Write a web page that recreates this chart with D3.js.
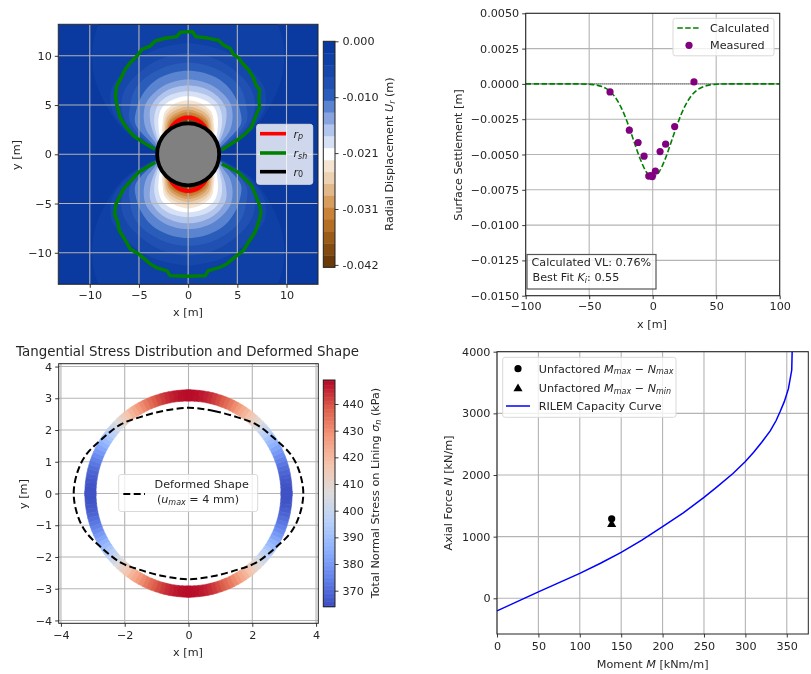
<!DOCTYPE html>
<html>
<head>
<meta charset="utf-8">
<script src="https://cdn.jsdelivr.net/npm/d3@7"></script>
<style>
    html, body { margin: 0; padding: 0; background: #fff; }
    svg { display: block; filter: blur(0.35px); }
    text { font-family: "DejaVu Sans", sans-serif; fill: #262626; }
    .tick text { font-size: 11.2px; }
    .tick line { stroke: #222; stroke-width: 0.9; }
    .grid line { stroke: #b4b4b4; stroke-width: 1.1; }
    .frame { fill: none; stroke: #222; stroke-width: 1; }
    .label { font-size: 11.2px; }
</style>
</head>
<body>
<svg id="chart" width="811" height="674"></svg>
<script>
// ---- displacement panel ----
const dispLevels = [0, -0.00223, -0.00447, -0.0067, -0.00894, -0.01117, -0.0134, -0.01564, -0.01787, -0.0201,
    -0.02234, -0.02457, -0.02681, -0.02904, -0.03127, -0.03351, -0.03574, -0.03797, -0.04021, -0.04245]
const dispColors = ["#0a399f", "#0f40a6", "#1648ab", "#2050b2", "#2a5cba", "#5a84d0", "#88a4de", "#b2c5ec", "#d7e1f5", "#ffffff",
    "#f5e4d2", "#ecd2b2", "#e2b78a", "#d69d5e", "#c98238", "#b56f24", "#9b5c1a", "#824b12", "#6b3a0b"]
const dispTicks = [0, -0.0105, -0.021, -0.0315, -0.042]
const dispTickLabels = ["0.000", "-0.010", "-0.021", "-0.031", "-0.042"]
const xyTicks = [-10, -5, 0, 5, 10]

// radius of each band's outer edge, read at these angles off the vertical
const lobeAngles = [0, 10, 20, 30, 40, 50, 60, 70, 80]
const lobeRadii = [
    null,
    [20, 20, 20, 17, 15, 12.5, 9.5, 6.8, 3.6],
    [11.3, 11.2, 11.1, 10.9, 10.6, 10.2, 8.9, 6.3, 3.4],
    [10.3, 10.2, 10, 9.7, 9.4, 8.8, 7.6, 5.6, 3.3],
    [9.3, 9.25, 9.1, 8.9, 8.5, 7.7, 6.9, 5, 3.2],
    [8.5, 8.45, 8.3, 8, 7.5, 6.9, 6.2, 4.3, 3.1],
    [7.6, 7.55, 7.4, 7.1, 6.7, 5.9, 4.9, 3.6, 3],
    [7, 6.95, 6.8, 6.5, 6, 5, 4, 3.3, 3],
    [6.4, 6.35, 6.25, 5.95, 5.3, 4.45, 3.65, 3.2, 3],
    [5.9, 5.85, 5.7, 5.4, 4.7, 3.9, 3.3, 3.05, 3],
    [5.5, 5.4, 5.2, 4.85, 4.05, 3.5, 3.1, 3, 3],
    [5.15, 5.05, 4.9, 4.55, 3.85, 3.3, 3, 3, 3],
    [4.85, 4.75, 4.6, 4.3, 3.65, 3.15, 3, 3, 3],
    [4.55, 4.45, 4.3, 4, 3.45, 3.05, 3, 3, 3],
    [4.3, 4.2, 4.05, 3.8, 3.3, 3, 3, 3, 3],
    [4.05, 3.95, 3.85, 3.55, 3.15, 3, 3, 3, 3],
    [3.85, 3.75, 3.6, 3.35, 3.05, 3, 3, 3, 3],
    [3.65, 3.58, 3.45, 3.25, 3, 3, 3, 3, 3],
    [3.45, 3.4, 3.3, 3.15, 3, 3, 3, 3, 3],
]
const rpRadii = [3.74, 3.68, 3.52, 3.3, 3.05, 3, 3, 3, 3]
const r0 = 3.15
const shTopX = [-3.37, -4.55, -5.55, -6.4, -6.9, -7.26, -7.4, -7.26, -6.9, -6.4, -5.89, -5.2, -4.7, -3.86, -3.35, -2.34, -1.15, -0.81,
    0, 0.44, 0.78, 1.73, 3.08, 3.59, 4.26, 4.6, 5.1, 5.6, 6.1, 6.6, 6.93, 7.26, 7.19, 7.26, 6.93, 6.43, 5.75, 5.08, 4.06, 3.4]
const shTopY = [0.51, 1.18, 1.86, 2.88, 3.72, 5.08, 5.93, 6.94, 7.61, 8.63, 9.3, 9.98, 10.66, 11, 11.51, 11.78, 11.95, 12.38,
    12.45, 12.45, 11.95, 11.84, 11.57, 11.1, 10.77, 10.15, 9.81, 9.14, 8.63, 7.85, 6.94, 6.6, 5.58, 4.74, 4.06, 2.71, 2.03, 1.52, 0.85, 0.44]
const shBotX = [-3.35, -5.04, -6.57, -7.34, -7.48, -7.14, -7, -6.33, -5.89, -5.04, -3.86, -3.18, -2.17, -1.83,
    0, 1.73, 2.06, 3.25, 3.93, 4.94, 5.62, 6.13, 6.8, 7.21, 7.41, 7.21, 6.46, 5.11, 3.42]
const shBotY = [-0.81, -1.83, -3.52, -5.04, -6.06, -6.9, -7.75, -8.83, -9.61, -10.12, -11.13, -11.54, -11.81, -12.32,
    -12.39, -12.32, -11.81, -11.47, -11.13, -10.29, -9.78, -8.93, -7.92, -6.73, -5.89, -5.04, -3.18, -1.83, -0.98]

// ---- settlement panel ----
const calcX = [-100, -60, -50, -45, -40, -35, -30, -25, -20, -15, -10, -5, 0, 5, 10, 15, 20, 25, 30, 35, 40, 45, 50, 60, 100]
const calcY = [0, 0, -0.00003, -0.00007, -0.00019, -0.00043, -0.00089, -0.00164, -0.00271, -0.004, -0.00528, -0.00624, -0.0066,
    -0.00624, -0.00528, -0.004, -0.00271, -0.00164, -0.00089, -0.00043, -0.00019, -0.00007, -0.00003, 0, 0]
const measX = [-33.6, -18.4, -11.5, -6.8, -3.1, -1.5, -0.3, 2.1, 5.8, 10.2, 17.3, 32.5]
const measY = [-0.00057, -0.00328, -0.00415, -0.00512, -0.00653, -0.0065, -0.00656, -0.00618, -0.00479, -0.00427, -0.00302, 0.00014]

// ---- lining stress panel ----
const stressAngles = d3.range(0, 90.1, 2.5)
const stressValues = [365, 365.2, 365.6, 366.4, 367.5, 368.9, 370.6, 372.5, 374.7, 377.2, 379.8, 382.7, 385.8, 389, 392.3, 395.8, 399.3, 402.9,
    406.5, 410.1, 413.7, 417.2, 420.7, 424, 427.3, 430.3, 433.2, 435.8, 438.3, 440.5, 442.4, 444.1, 445.5, 446.6, 447.4, 447.8, 448]
const ringInner = 2.9
const ringOuter = 3.25
const stressTicks = [370, 380, 390, 400, 410, 420, 430, 440]
const coolwarm = ["#3b4cc0", "#6282ea", "#8db0fe", "#b8d0f9", "#dddcdc", "#f5c4ac", "#f4987a", "#dc5d4a", "#b40426"]
const defX = [0, 0.8, 1.54, 2.12, 2.69, 3.22, 3.48, 3.6]
const defY = [2.7, 2.6, 2.4, 2.18, 1.74, 1.21, 0.68, 0]

// ---- capacity panel ----
const capM = [0, 25, 50, 75, 100, 125, 150, 175, 200, 225, 250, 265, 285, 300, 310, 320, 330, 337, 342, 347, 352, 356, 356.5]
const capN = [-205, -50, 105, 255, 405, 568, 746, 945, 1162, 1385, 1638, 1800, 2025, 2220, 2370, 2535, 2715, 2880, 3030, 3190, 3400, 3703, 4000]
const unfactoredM = [138.5, 138.5]
const unfactoredN = [1290, 1200]

const svg = d3.select("#chart")

// math labels: parts are [text, "i" | "s" | "is" | ""]
function addText(g, x, y, parts, opts = {}) {
    const t = g.append("text")
        .attr("class", "label")
        .attr("x", x)
        .attr("y", y)
        .attr("text-anchor", opts.anchor || "start")
        .attr("dominant-baseline", "central")
    if (opts.rotate) t.attr("transform", `rotate(-90 ${x} ${y})`)
    let shifted = false
    parts.forEach(([s, kind]) => {
        const span = t.append("tspan").text(s)
        const sub = kind && kind.includes("s")
        if (kind && kind.includes("i")) span.style("font-style", "italic")
        if (sub) span.style("font-size", "8px")
        if (sub && !shifted) span.attr("dy", 2.5)
        if (!sub && shifted) span.attr("dy", -2.5)
        shifted = sub
    })
    return t
}

function drawAxes(g, xScale, yScale, xTicks, yTicks, yFormat, xPad) {
    const height = yScale.range()[0]
    const top = yScale.range()[1]
    const left = xScale.range()[0]
    const right = xScale.range()[1]

    const xAxis = g.append("g")
        .attr("transform", `translate(0,${height})`)
        .call(d3.axisBottom(xScale).tickValues(xTicks).tickSize(3.5).tickPadding(xPad || 3))
    const yAxis = g.append("g")
        .attr("transform", `translate(${left},0)`)
        .call(d3.axisLeft(yScale).tickValues(yTicks).tickSize(3.5).tickPadding(3).tickFormat(yFormat || (d => d3.format("d")(d))))
    xAxis.select(".domain").remove()
    yAxis.select(".domain").remove()

    g.append("rect")
        .attr("class", "frame")
        .attr("x", left)
        .attr("y", top)
        .attr("width", right - left)
        .attr("height", height - top)
}

function drawGrid(g, xScale, yScale, xTicks, yTicks) {
    const grid = g.append("g").attr("class", "grid")
    grid.selectAll(".gx").data(xTicks).enter().append("line")
        .attr("x1", d => xScale(d)).attr("x2", d => xScale(d))
        .attr("y1", yScale.range()[0]).attr("y2", yScale.range()[1])
    grid.selectAll(".gy").data(yTicks).enter().append("line")
        .attr("x1", xScale.range()[0]).attr("x2", xScale.range()[1])
        .attr("y1", d => yScale(d)).attr("y2", d => yScale(d))
}

function legendBox(g, x, y, w, h, fill) {
    g.append("rect")
        .attr("x", x).attr("y", y)
        .attr("width", w).attr("height", h)
        .attr("rx", 2.5)
        .attr("fill", fill || "#fff")
        .attr("fill-opacity", 0.8)
        .attr("stroke", "#d9d9d9")
        .attr("stroke-width", 1)
}

// 1. Radial displacement
function drawDisplacement() {
    const g = svg.append("g")
    const x = d3.scaleLinear().domain([-13.2, 13.2]).range([58.3, 318])
    const y = d3.scaleLinear().domain([-13.2, 13.2]).range([284.3, 24.3])
    const unit = x(1) - x(0)

    g.append("defs").append("clipPath").attr("id", "clip-disp")
        .append("rect")
        .attr("x", 58.3).attr("y", 24.3)
        .attr("width", 259.7).attr("height", 260)

    const clip = g.append("g").attr("clip-path", "url(#clip-disp)")
    clip.append("rect")
        .attr("x", 58.3).attr("y", 24.3)
        .attr("width", 259.7).attr("height", 260)
        .attr("fill", dispColors[0])

    const angles = lobeAngles.map(a => -a).reverse().slice(0, -1).concat(lobeAngles)
    const lobePath = radii => {
        const full = radii.slice().reverse().slice(0, -1).concat(radii)
        return d3.lineRadial()
            .angle((d, i) => angles[i] * Math.PI / 180)
            .radius(d => d * unit)
            .curve(d3.curveCatmullRom)(full) + "Z"
    }

    // both lobes, outermost band first
    const lobes = clip.append("g").attr("transform", `translate(${x(0)},${y(0)})`)
    lobeRadii.forEach((radii, i) => {
        if (!radii) return
        lobes.append("path").attr("d", lobePath(radii)).attr("fill", dispColors[i])
        lobes.append("path").attr("d", lobePath(radii)).attr("fill", dispColors[i])
            .attr("transform", "rotate(180)")
    })

    drawGrid(clip, x, y, xyTicks, xyTicks)

    const rp = clip.append("g").attr("transform", `translate(${x(0)},${y(0)})`)
    ;["rotate(0)", "rotate(180)"].forEach(t => {
        rp.append("path").attr("d", lobePath(rpRadii))
            .attr("fill", "none").attr("stroke", "#ff0000").attr("stroke-width", 4)
            .attr("transform", t)
    })

    const shLine = d3.line().x(d => x(d[0])).y(d => y(d[1]))
    clip.append("path")
        .attr("d", shLine(d3.zip(shTopX, shTopY)))
        .attr("fill", "none").attr("stroke", "#008000").attr("stroke-width", 3.4)
    clip.append("path")
        .attr("d", shLine(d3.zip(shBotX, shBotY)))
        .attr("fill", "none").attr("stroke", "#008000").attr("stroke-width", 3.4)

    clip.append("circle")
        .attr("cx", x(0)).attr("cy", y(0))
        .attr("r", r0 * unit)
        .attr("fill", "#808080")
        .attr("stroke", "#000")
        .attr("stroke-width", 3.8)

    drawAxes(g, x, y, xyTicks, xyTicks)
    addText(g, 188, 312, [["x [m]"]], { anchor: "middle" })
    addText(g, 15.5, 155, [["y [m]"]], { anchor: "middle", rotate: true })

    // legend
    legendBox(g, 256.7, 124.3, 56, 60)
    const legendRows = [["#ff0000", 133.7, "p"], ["#008000", 153, "sh"], ["#000", 171.7, "0"]]
    legendRows.forEach(([color, ly, sub]) => {
        g.append("line")
            .attr("x1", 260).attr("x2", 286).attr("y1", ly).attr("y2", ly)
            .attr("stroke", color).attr("stroke-width", 3.6)
        addText(g, 293.5, ly, [["r", "i"], [sub, sub === "0" ? "s" : "is"]])
    })

    // colorbar
    const cy = d3.scaleLinear().domain([0, -0.0105]).range([41.3, 97.2])
    g.selectAll(".band").data(dispColors).enter().append("rect")
        .attr("x", 323.3)
        .attr("width", 11.7)
        .attr("y", (d, i) => cy(dispLevels[i]))
        .attr("height", (d, i) => cy(dispLevels[i + 1]) - cy(dispLevels[i]) + 0.3)
        .attr("fill", d => d)
    const cAxis = g.append("g")
        .attr("transform", "translate(335,0)")
        .call(d3.axisRight(cy).tickValues(dispTicks).tickSize(3.5).tickPadding(4)
            .tickFormat((d, i) => dispTickLabels[i]))
    cAxis.select(".domain").remove()
    g.append("rect").attr("class", "frame")
        .attr("x", 323.3).attr("y", 41.3).attr("width", 11.7).attr("height", 226)
    addText(g, 389, 154, [["Radial Displacement "], ["U", "i"], ["r", "is"], [" (m)"]], { anchor: "middle", rotate: true })
}

// 2. Surface settlement
function drawSettlement() {
    const g = svg.append("g")
    const x = d3.scaleLinear().domain([-100, 100]).range([525.7, 779.7])
    const y = d3.scaleLinear().domain([-0.015, 0.005]).range([295.7, 13.3])
    const xTicks = [-100, -50, 0, 50, 100]
    const yTicks = d3.range(-0.015, 0.0051, 0.0025)

    drawGrid(g, x, y, xTicks, yTicks)

    g.append("line")
        .attr("x1", x(-100)).attr("x2", x(100)).attr("y1", y(0)).attr("y2", y(0))
        .attr("stroke", "#222").attr("stroke-width", 0.8).attr("stroke-dasharray", "1,1")

    const line = d3.line().x(d => x(d[0])).y(d => y(d[1])).curve(d3.curveMonotoneX)
    g.append("path")
        .attr("d", line(d3.zip(calcX, calcY)))
        .attr("fill", "none")
        .attr("stroke", "#008000")
        .attr("stroke-width", 1.6)
        .attr("stroke-dasharray", "5.5,2.4")

    g.selectAll(".meas").data(d3.zip(measX, measY)).enter().append("circle")
        .attr("cx", d => x(d[0]))
        .attr("cy", d => y(d[1]))
        .attr("r", 3.6)
        .attr("fill", "#800080")

    drawAxes(g, x, y, xTicks, yTicks, d3.format(".4f"))
    addText(g, 652, 324, [["x [m]"]], { anchor: "middle" })
    addText(g, 457.7, 155, [["Surface Settlement [m]"]], { anchor: "middle", rotate: true })

    legendBox(g, 673, 18.3, 101, 37.5)
    g.append("line")
        .attr("x1", 677.3).attr("x2", 700.7).attr("y1", 28).attr("y2", 28)
        .attr("stroke", "#008000").attr("stroke-width", 1.6).attr("stroke-dasharray", "5.5,2.4")
    g.append("circle").attr("cx", 689).attr("cy", 45.3).attr("r", 3.6).attr("fill", "#800080")
    addText(g, 710, 28, [["Calculated"]])
    addText(g, 710, 44.5, [["Measured"]])

    g.append("rect")
        .attr("x", 527).attr("y", 254.5).attr("width", 129).attr("height", 34.5)
        .attr("fill", "#fff").attr("fill-opacity", 0.8)
        .attr("stroke", "#555").attr("stroke-width", 1.2)
    addText(g, 531.5, 262, [["Calculated VL: 0.76%"]])
    addText(g, 532.5, 277, [["Best Fit "], ["K", "i"], ["i", "is"], [": 0.55"]])
}

// 3. Tangential stress ring
function drawStress() {
    const g = svg.append("g")
    const x = d3.scaleLinear().domain([-4.07, 4.07]).range([58.7, 318.3])
    const y = d3.scaleLinear().domain([-4.09, 4.09]).range([623.3, 363.7])
    const ticksX = [-4, -2, 0, 2, 4]
    const ticksY = [-4, -3, -2, -1, 0, 1, 2, 3, 4]

    drawGrid(g, x, y, ticksX, ticksY)

    const color = d3.scaleLinear()
        .domain(coolwarm.map((c, i) => 364 + i * (449 - 364) / (coolwarm.length - 1)))
        .range(coolwarm)

    // each table row is one arc, repeated for the four quadrants
    const unit = x(1) - x(0)
    const arc = d3.arc().innerRadius(ringInner * unit).outerRadius(ringOuter * unit)
    const ring = g.append("g").attr("transform", `translate(${x(0)},${y(0)})`)
    stressAngles.forEach((theta, i) => {
        const half = 1.3
        ;[90 - theta, 90 + theta, 270 - theta, 270 + theta].forEach(a => {
            ring.append("path")
                .attr("d", arc({ startAngle: (a - half) * Math.PI / 180, endAngle: (a + half) * Math.PI / 180 }))
                .attr("fill", color(stressValues[i]))
                .attr("stroke", color(stressValues[i]))
                .attr("stroke-width", 0.6)
        })
    })

    // deformed shape, mirrored from the first quadrant
    const pts = d3.zip(defX, defY)
    const quarter2 = pts.slice(0, -1).reverse().map(d => [d[0], -d[1]])
    const quarter3 = pts.slice(1).map(d => [-d[0], -d[1]])
    const quarter4 = pts.slice(1, -1).reverse().map(d => [-d[0], d[1]])
    const shape = pts.concat(quarter2, quarter3, quarter4)
    g.append("path")
        .attr("d", d3.line().x(d => x(d[0])).y(d => y(d[1])).curve(d3.curveCatmullRomClosed)(shape))
        .attr("fill", "none")
        .attr("stroke", "#000")
        .attr("stroke-width", 2)
        .attr("stroke-dasharray", "7,3.4")

    drawAxes(g, x, y, ticksX, ticksY, null, 4)
    g.append("text")
        .attr("x", 187.5).attr("y", 351.5)
        .attr("text-anchor", "middle")
        .attr("dominant-baseline", "central")
        .style("font-size", "13.4px")
        .text("Tangential Stress Distribution and Deformed Shape")
    addText(g, 188, 651.7, [["x [m]"]], { anchor: "middle" })
    addText(g, 22.7, 494, [["y [m]"]], { anchor: "middle", rotate: true })

    legendBox(g, 118.7, 474.5, 139, 37)
    g.append("line")
        .attr("x1", 123.3).attr("x2", 145).attr("y1", 494).attr("y2", 494)
        .attr("stroke", "#000").attr("stroke-width", 2).attr("stroke-dasharray", "7,3.4")
    addText(g, 201.7, 484, [["Deformed Shape"]], { anchor: "middle" })
    addText(g, 198, 499, [["("], ["u", "i"], ["max", "is"], [" = 4 mm)"]], { anchor: "middle" })

    // colorbar
    const cy = d3.scaleLinear().domain([370, 440]).range([590.7, 404])
    g.selectAll(".cb").data(d3.range(364, 449, 0.5)).enter().append("rect")
        .attr("x", 323.3)
        .attr("width", 11.7)
        .attr("y", d => cy(d + 0.5))
        .attr("height", cy(0) - cy(0.5) + 0.5)
        .attr("fill", d => color(d))
    const cAxis = g.append("g")
        .attr("transform", "translate(335,0)")
        .call(d3.axisRight(cy).tickValues(stressTicks).tickSize(3.5).tickPadding(4))
    cAxis.select(".domain").remove()
    g.append("rect").attr("class", "frame")
        .attr("x", 323.3).attr("y", 380).attr("width", 11.7).attr("height", 226.7)
    addText(g, 375, 493, [["Total Normal Stress on Lining "], ["σ", "i"], ["n", "is"], [" (kPa)"]], { anchor: "middle", rotate: true })
}

// 4. Capacity curve
function drawCapacity() {
    const g = svg.append("g")
    const x = d3.scaleLinear().domain([0, 376]).range([497, 808.3])
    const y = d3.scaleLinear().domain([-579, 4000]).range([634, 351.7])
    const xTicks = [0, 50, 100, 150, 200, 250, 300, 350]
    const yTicks = [0, 1000, 2000, 3000, 4000]

    drawGrid(g, x, y, xTicks, yTicks)

    g.append("path")
        .attr("d", d3.line().x(d => x(d[0])).y(d => y(d[1]))(d3.zip(capM, capN)))
        .attr("fill", "none")
        .attr("stroke", "#0000ff")
        .attr("stroke-width", 1.5)

    g.append("circle")
        .attr("cx", x(unfactoredM[0])).attr("cy", y(unfactoredN[0]))
        .attr("r", 3.6).attr("fill", "#000")
    g.append("path")
        .attr("d", d3.symbol(d3.symbolTriangle, 36)())
        .attr("transform", `translate(${x(unfactoredM[1])},${y(unfactoredN[1])})`)
        .attr("fill", "#000")

    drawAxes(g, x, y, xTicks, yTicks, null, 5)
    addText(g, 652.7, 664, [["Moment "], ["M", "i"], [" [kNm/m]"]], { anchor: "middle" })
    addText(g, 448, 493, [["Axial Force "], ["N", "i"], [" [kN/m]"]], { anchor: "middle", rotate: true })

    legendBox(g, 502.7, 357.3, 173.3, 60)
    g.append("circle").attr("cx", 518).attr("cy", 368.7).attr("r", 3.6).attr("fill", "#000")
    g.append("path")
        .attr("d", d3.symbol(d3.symbolTriangle, 36)())
        .attr("transform", "translate(518,388.7)")
        .attr("fill", "#000")
    g.append("line")
        .attr("x1", 506).attr("x2", 530).attr("y1", 406).attr("y2", 406)
        .attr("stroke", "#0000ff").attr("stroke-width", 1.5)
    addText(g, 538.7, 368.5, [["Unfactored "], ["M", "i"], ["max", "is"], [" − "], ["N", "i"], ["max", "is"]])
    addText(g, 538.7, 388, [["Unfactored "], ["M", "i"], ["max", "is"], [" − "], ["N", "i"], ["min", "is"]])
    addText(g, 538.7, 405.5, [["RILEM Capacity Curve"]])
}

drawDisplacement()
drawSettlement()
drawStress()
drawCapacity()
</script>
</body>
</html>
